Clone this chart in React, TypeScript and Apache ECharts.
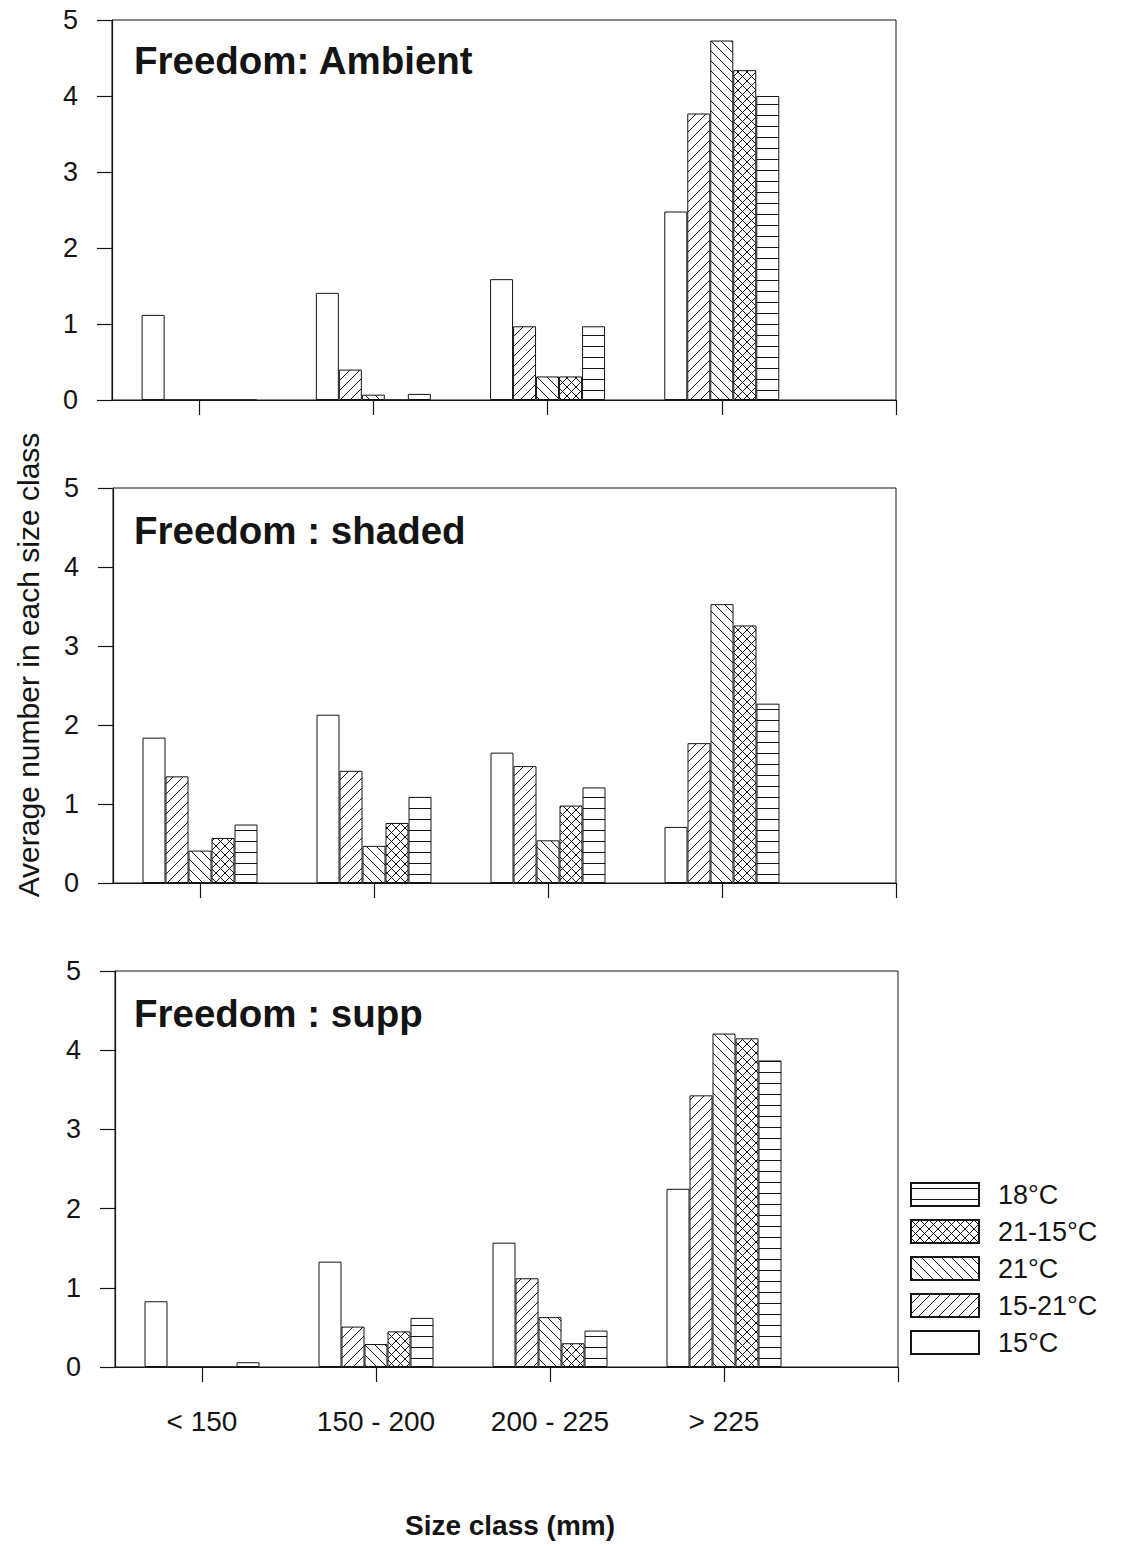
import React, { useEffect, useRef } from 'react';
import * as echarts from 'echarts';

const sizeClasses = ['< 150', '150 - 200', '200 - 225', '> 225'];
const treatments = ['15°C', '15-21°C', '21°C', '21-15°C', '18°C'];
const legendOrder = ['18°C', '21-15°C', '21°C', '15-21°C', '15°C'];
const panelTitles = ['Freedom: Ambient', 'Freedom : shaded', 'Freedom : supp'];
const xTickValues = [0, 1, 2, 3, 4];
const xLabelValues = [0, 1, 2, 3];

// Freedom: Ambient
const ambient15 = [1.12, 1.41, 1.59, 2.48];
const ambient1521 = [0, 0.4, 0.97, 3.77];
const ambient21 = [0, 0.07, 0.31, 4.73];
const ambient2115 = [0, 0, 0.31, 4.34];
const ambient18 = [0, 0.08, 0.97, 4.0];

// Freedom : shaded
const shaded15 = [1.84, 2.13, 1.65, 0.71];
const shaded1521 = [1.35, 1.42, 1.48, 1.77];
const shaded21 = [0.41, 0.47, 0.54, 3.53];
const shaded2115 = [0.57, 0.76, 0.98, 3.26];
const shaded18 = [0.74, 1.09, 1.21, 2.27];

// Freedom : supp
const supp15 = [0.83, 1.33, 1.57, 2.25];
const supp1521 = [0, 0.51, 1.12, 3.43];
const supp21 = [0, 0.29, 0.63, 4.21];
const supp2115 = [0, 0.45, 0.3, 4.15];
const supp18 = [0.06, 0.62, 0.46, 3.87];

const panels = [
  [ambient15, ambient1521, ambient21, ambient2115, ambient18],
  [shaded15, shaded1521, shaded21, shaded2115, shaded18],
  [supp15, supp1521, supp21, supp2115, supp18],
];

const INK = '#141414';
const FONT = '"Liberation Sans", Arial, Helvetica, sans-serif';

function makePattern(kind: string) {
  const w = kind === 'h' ? 10 : kind === 'x' ? 9 : 10;
  const h = kind === 'h' ? 11 : w;
  const c = document.createElement('canvas');
  c.width = w;
  c.height = h;
  const ctx = c.getContext('2d')!;
  ctx.fillStyle = '#ffffff';
  ctx.fillRect(0, 0, w, h);
  ctx.strokeStyle = INK;
  ctx.lineWidth = 1;
  ctx.lineCap = 'square';
  const fwd = () => {
    ctx.beginPath();
    ctx.moveTo(0, h);
    ctx.lineTo(w, 0);
    ctx.moveTo(-2, 2);
    ctx.lineTo(2, -2);
    ctx.moveTo(w - 2, h + 2);
    ctx.lineTo(w + 2, h - 2);
    ctx.stroke();
  };
  const back = () => {
    ctx.beginPath();
    ctx.moveTo(0, 0);
    ctx.lineTo(w, h);
    ctx.moveTo(w - 2, -2);
    ctx.lineTo(w + 2, 2);
    ctx.moveTo(-2, h - 2);
    ctx.lineTo(2, h + 2);
    ctx.stroke();
  };
  if (kind === 'f') fwd();
  else if (kind === 'b') back();
  else if (kind === 'x') {
    fwd();
    back();
  } else if (kind === 'h') {
    ctx.fillStyle = INK;
    ctx.fillRect(0, 5, w, 1);
  }
  return { image: c.toDataURL(), repeat: 'repeat', imageWidth: w, imageHeight: h };
}

export default function App() {
  const ref = useRef<HTMLDivElement>(null);
  useEffect(() => {
    if (!ref.current) return;
    const chart = echarts.init(ref.current, undefined, { renderer: 'svg' });
    const fills: any[] = [
      '#ffffff',
      makePattern('f'),
      makePattern('b'),
      makePattern('x'),
      makePattern('h'),
    ];
    const grids = [
      { left: 112, top: 20, width: 784, height: 380 },
      { left: 113, top: 488, width: 783, height: 395 },
      { left: 115, top: 971, width: 783, height: 396 },
    ];
    const series: any[] = [];
    panels.forEach((panel, p) => {
      panel.forEach((vals, t) => {
        series.push({
          type: 'bar',
          name: treatments[t],
          xAxisIndex: p,
          yAxisIndex: p,
          barWidth: 23,
          barGap: '0%',
          data: vals.map((v, i) => [i, v]),
          itemStyle: { color: fills[t], borderColor: INK, borderWidth: 1 },
          emphasis: { disabled: true },
        });
      });
    });
    const titleY = [60, 530, 1013];
    chart.setOption({
      animation: false,
      textStyle: { fontFamily: FONT, color: INK },
      grid: grids.map((g) => ({
        ...g,
        show: true,
        borderColor: INK,
        borderWidth: 1,
        backgroundColor: 'transparent',
        containLabel: false,
      })),
      xAxis: grids.map((g, p) => ({
        type: 'value',
        gridIndex: p,
        min: -0.5,
        max: 4,
        position: 'bottom',
        axisLine: { show: true, onZero: false, lineStyle: { color: INK, width: 1.2 } },
        axisTick: {
          show: true,
          inside: false,
          length: 15,
          customValues: xTickValues,
          lineStyle: { color: INK, width: 1.2 },
        },
        axisLabel: {
          show: p === 2,
          customValues: xLabelValues,
          formatter: (v: number) => sizeClasses[Math.round(v)] ?? '',
          fontSize: 28,
          color: INK,
          margin: 40,
          fontFamily: FONT,
        },
        splitLine: { show: false },
      })),
      yAxis: grids.map((g, p) => ({
        type: 'value',
        gridIndex: p,
        min: 0,
        max: 5,
        interval: 1,
        position: 'left',
        axisLine: { show: true, onZero: false, lineStyle: { color: INK, width: 1.2 } },
        axisTick: { show: true, inside: false, length: 15, lineStyle: { color: INK, width: 1.2 } },
        axisLabel: { fontSize: 27, color: INK, margin: 34, fontFamily: FONT },
        splitLine: { show: false },
      })),
      legend: {
        orient: 'vertical',
        left: 905,
        top: 1176,
        itemWidth: 68,
        itemHeight: 23,
        itemGap: 10,
        icon: 'rect',
        selectedMode: false,
        data: legendOrder,
        textStyle: { fontSize: 27, color: INK, fontFamily: FONT, padding: [0, 0, 0, 14] },
      },
      graphic: [
        ...panelTitles.map((t, i) => ({
          type: 'text',
          x: 134,
          y: titleY[i],
          style: {
            text: t,
            fontSize: 38.5,
            fontWeight: 'bold',
            fontFamily: FONT,
            fill: INK,
            verticalAlign: 'middle',
            align: 'left',
          },
        })),
        {
          type: 'text',
          x: 28,
          y: 665,
          rotation: Math.PI / 2,
          style: {
            text: 'Average number in each size class',
            fontSize: 30,
            fontFamily: FONT,
            fill: INK,
            align: 'center',
            verticalAlign: 'middle',
          },
        },
        {
          type: 'text',
          x: 510,
          y: 1525,
          style: {
            text: 'Size class (mm)',
            fontSize: 28,
            fontWeight: 'bold',
            fontFamily: FONT,
            fill: INK,
            align: 'center',
            verticalAlign: 'middle',
          },
        },
      ],
      series,
    });
    return () => chart.dispose();
  }, []);
  return (
    <div
      ref={ref}
      style={{ position: 'absolute', left: 0, top: 0, width: 1123, height: 1546, background: '#fff' }}
    />
  );
}
